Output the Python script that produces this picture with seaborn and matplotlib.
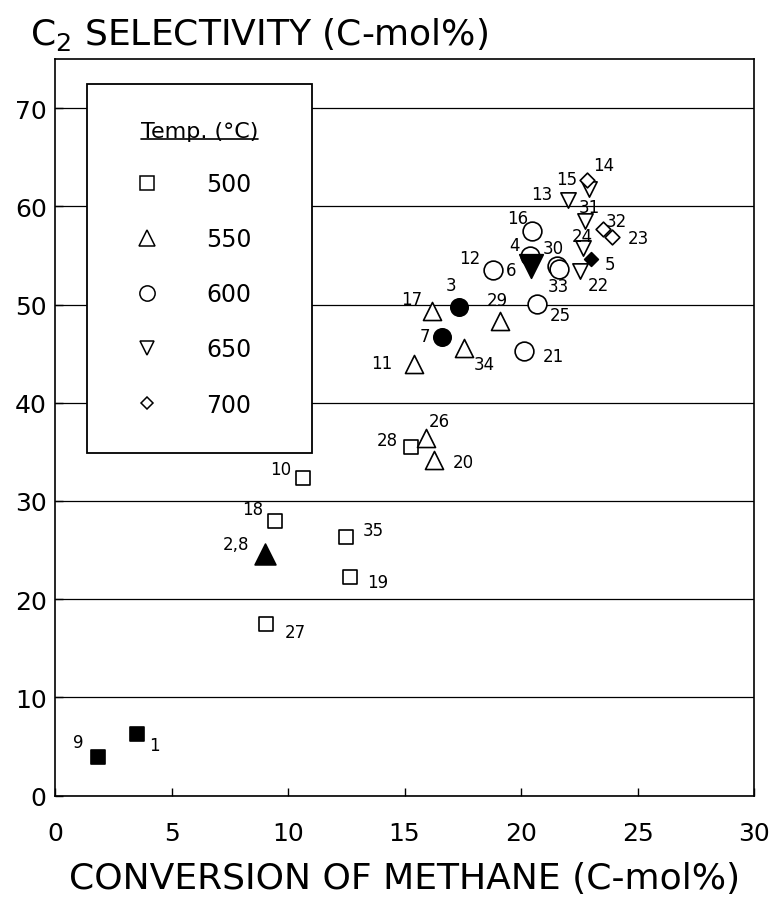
import numpy as np
import pandas as pd
import seaborn as sns
import matplotlib.pyplot as plt
from matplotlib.lines import Line2D

# runs
run_labels = ["1", "9", "10", "18", "35", "19", "27", "28",
              "2,8", "26", "20", "17", "29", "34", "11",
              "3", "7", "25", "21", "12", "4", "16", "30", "33",
              "6", "22", "24", "13", "15", "31",
              "5", "23", "14", "32"]
conversion = [3.51, 1.83, 10.65, 9.44, 12.48, 12.66, 9.04, 15.27,
              9.01, 15.91, 16.28, 16.19, 19.10, 17.57, 15.41,
              17.34, 16.60, 20.67, 20.14, 18.81, 20.39, 20.46, 21.55, 21.62,
              20.42, 22.53, 22.67, 22.00, 22.90, 22.75,
              22.99, 23.90, 22.82, 23.50]
selectivity = [6.24, 3.88, 32.3, 28.0, 26.3, 22.3, 17.5, 35.5,
               24.6, 36.4, 34.2, 49.3, 48.3, 45.6, 43.9,
               49.7, 46.7, 50.1, 45.3, 53.5, 54.9, 57.5, 53.9, 53.6,
               53.9, 53.4, 55.8, 60.6, 61.8, 58.5,
               54.6, 56.9, 62.7, 57.7]
temperature = [500, 500, 500, 500, 500, 500, 500, 500,
               550, 550, 550, 550, 550, 550, 550,
               600, 600, 600, 600, 600, 600, 600, 600, 600,
               650, 650, 650, 650, 650, 650,
               700, 700, 700, 700]
filled = [True, True, False, False, False, False, False, False,
          True, False, False, False, False, False, False,
          True, True, False, False, False, False, False, False, False,
          True, False, False, False, False, False,
          True, False, False, False]

temp_levels = [500, 550, 600, 650, 700]
x_ticks = [0, 5, 10, 15, 20, 25, 30]
y_ticks = [0, 10, 20, 30, 40, 50, 60, 70]

# styling
MARKERS = {500: "s", 550: "^", 600: "o", 650: "v", 700: "D"}
SIZE_OPEN = {500: 10.5, 550: 13, 600: 13.5, 650: 11, 700: 7.5}
SIZE_FILLED = {500: 10.5, 550: 15, 600: 12.5, 650: 17, 700: 7}
SIZE_LEGEND = {500: 10, 550: 11, 600: 11, 650: 10, 700: 6}

# label offsets in points
LABEL_OFFSETS = {
    "1": (13, -8), "9": (-14, 11), "10": (-16, 7), "18": (-16, 8),
    "2,8": (-21, 7), "35": (20, 5), "19": (20, -4), "27": (21, -6),
    "28": (-17, 5), "26": (10, 12), "20": (21, -2), "17": (-15, 9),
    "3": (-6, 16), "29": (-2, 15), "25": (17, -8), "7": (-12, 1),
    "34": (14, -12), "11": (-23, 1), "21": (21, -4), "12": (-17, 9),
    "6": (-14, -3), "4": (-11, 8), "30": (-3, 13), "33": (0, -12),
    "22": (13, -10), "5": (14, -3), "24": (-1, 8), "23": (19, -1),
    "14": (12, 11), "15": (-16, 7), "13": (-19, 5), "31": (3, 10),
    "32": (10, 6), "16": (-10, 9),
}

df = pd.DataFrame({"run": run_labels, "conv": conversion, "sel": selectivity,
                   "temp": temperature, "filled": filled})

sns.set_theme(style="ticks")
plt.rcParams["font.family"] = ["DejaVu Sans"]
plt.rcParams["text.color"] = "black"
plt.rcParams["axes.labelcolor"] = "black"
plt.rcParams["xtick.color"] = "black"
plt.rcParams["ytick.color"] = "black"

fig = plt.figure(figsize=(7.73, 9.03), dpi=100)
ax = fig.add_axes([0.0712, 0.1179, 0.9043, 0.8156])

for temp in temp_levels:
    for is_filled in [False, True]:
        sub = df[(df["temp"] == temp) & (df["filled"] == is_filled)]
        if sub.empty:
            continue
        ms = SIZE_FILLED[temp] if is_filled else SIZE_OPEN[temp]
        sns.scatterplot(x="conv", y="sel", data=sub, ax=ax,
                        marker=MARKERS[temp], s=ms ** 2,
                        facecolor="black" if is_filled else "white",
                        edgecolor="black", linewidth=1.2, zorder=3,
                        legend=False)

for _, row in df.iterrows():
    ax.annotate(row["run"], xy=(row["conv"], row["sel"]),
                xytext=LABEL_OFFSETS[row["run"]], textcoords="offset points",
                ha="center", va="center", fontsize=12, color="black", zorder=4)

ax.set_xlim(0, 30)
ax.set_ylim(0, 75)
ax.set_xticks(x_ticks)
ax.set_yticks(y_ticks)
ax.yaxis.grid(True, color="black", linewidth=0.9)
ax.set_axisbelow(True)

ax.tick_params(direction="in", length=6, width=1, labelsize=18, colors="black")
ax.tick_params(axis="x", pad=18)
ax.tick_params(axis="y", pad=6)
for side in ["left", "right", "top", "bottom"]:
    ax.spines[side].set_visible(True)
    ax.spines[side].set_color("black")
    ax.spines[side].set_linewidth(1.2)

ax.set_xlabel("CONVERSION OF METHANE (C-mol%)", fontsize=26, labelpad=12)
ax.set_ylabel("")
ax.set_title("C$_2$ SELECTIVITY (C-mol%)", loc="left", x=-0.0358, y=1.0204,
             pad=0, fontsize=26)

handles = [Line2D([], [], linestyle="none", marker=MARKERS[t], markersize=SIZE_LEGEND[t],
                  markerfacecolor="white", markeredgecolor="black", markeredgewidth=1.1)
           for t in temp_levels]
leg = ax.legend(handles, [str(t) for t in temp_levels], title="Temp. (°C)",
                loc="upper left", bbox_to_anchor=(0.0458, 0.966, 0.322, 0.0),
                mode="expand", borderaxespad=0, fontsize=17, title_fontsize=16,
                borderpad=1.55, labelspacing=1.32, handlelength=2.0,
                handletextpad=1.5, frameon=True, fancybox=False,
                framealpha=1, edgecolor="black")
leg.get_frame().set_linewidth(1.3)
leg.set_zorder(5)

# underline the legend title
fig.canvas.draw()
bb = leg.get_title().get_window_extent(fig.canvas.get_renderer())
bb = bb.transformed(fig.transFigure.inverted())
fig.add_artist(Line2D([bb.x0, bb.x1], [bb.y0 + 0.002, bb.y0 + 0.002],
                      transform=fig.transFigure, color="black", linewidth=1.2, zorder=6))

plt.savefig("out.png", dpi=100)
